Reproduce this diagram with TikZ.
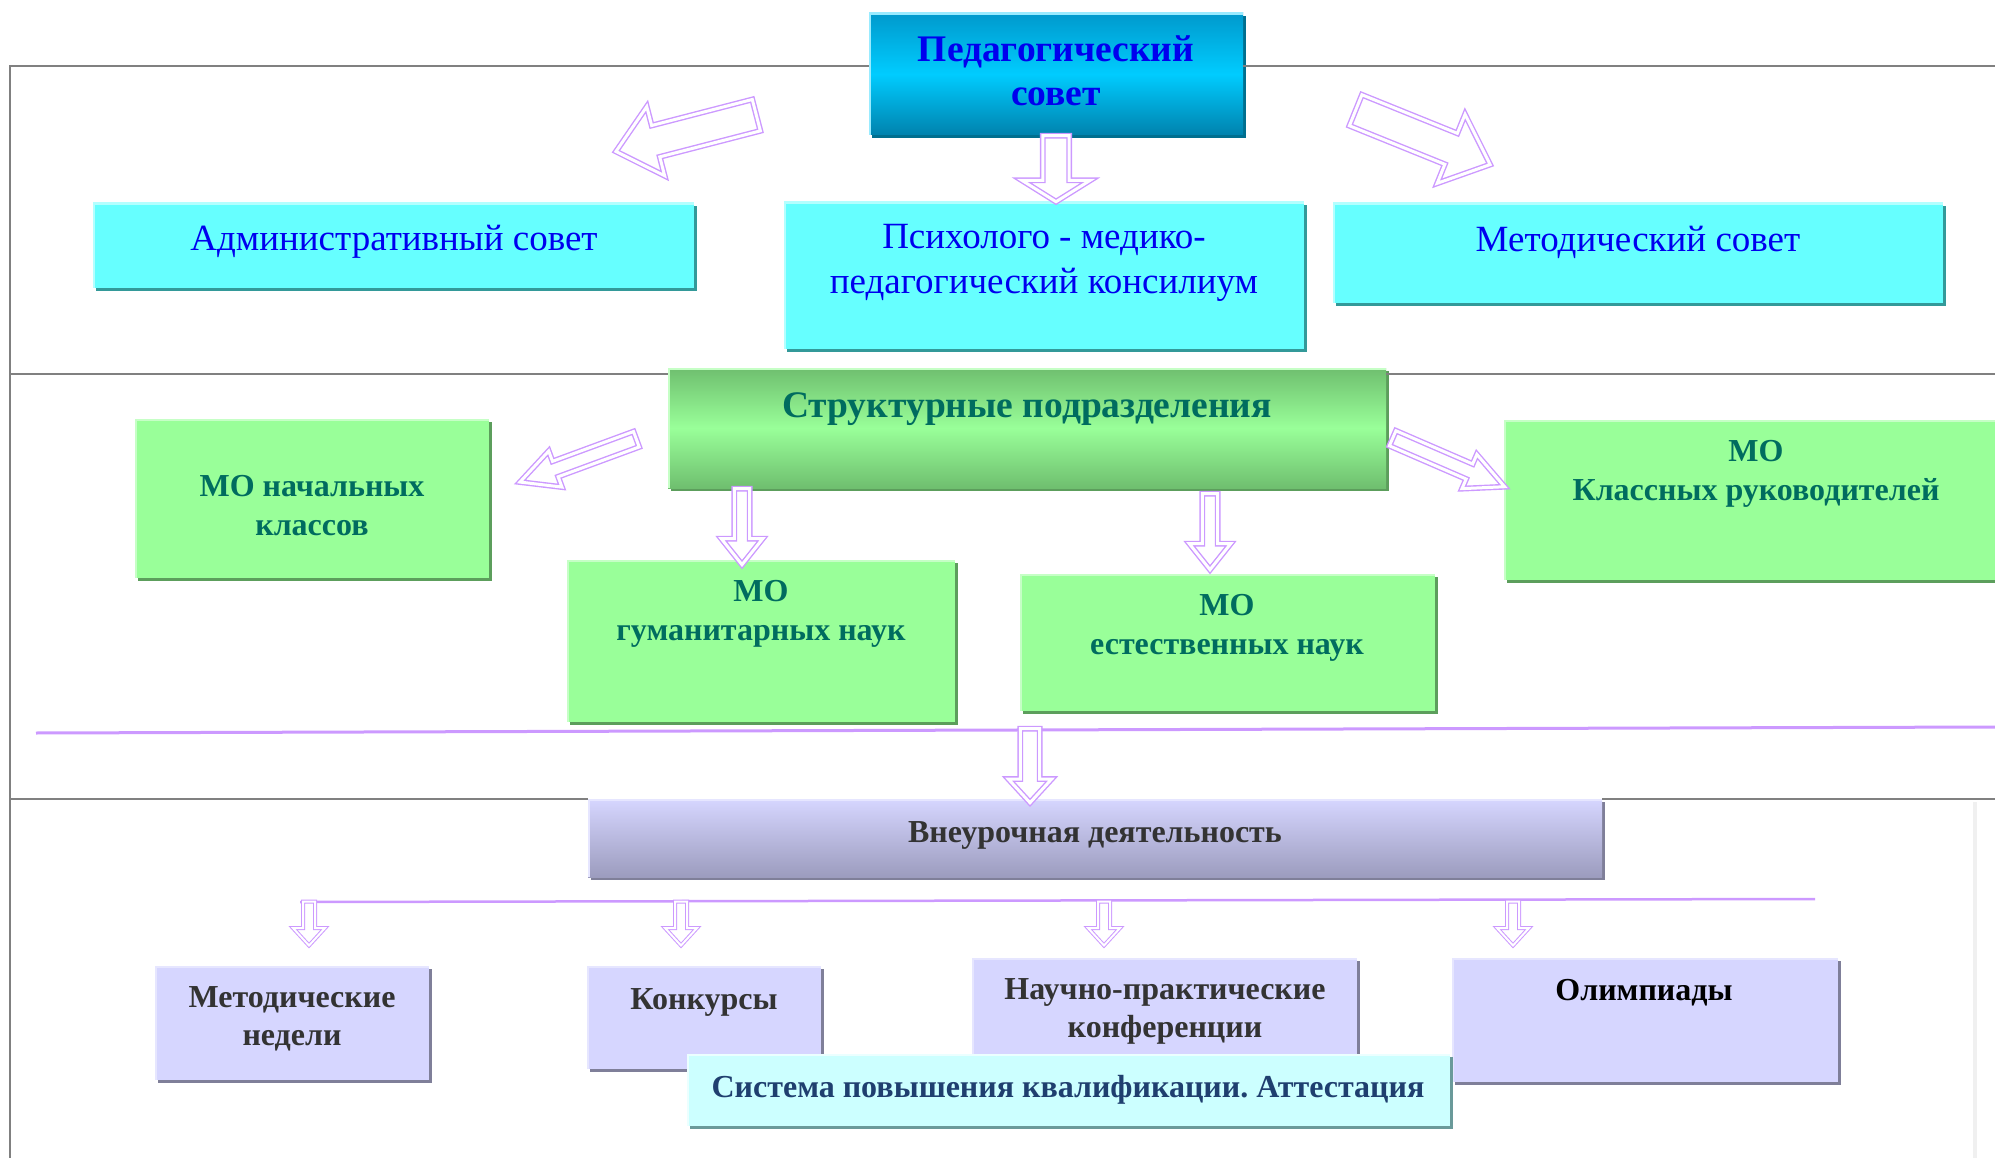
\documentclass[tikz,border=0pt]{standalone}
\usepackage{fontspec}
\setmainfont{Liberation Serif}
\frenchspacing
\usetikzlibrary{shadows,shapes.arrows}
\definecolor{arrowc}{RGB}{204,153,255}
\definecolor{sepgray}{HTML}{808080}
\definecolor{cyanfill}{HTML}{66FFFF}
\definecolor{cyanshade}{HTML}{339999}
\definecolor{cyanlight}{HTML}{B3FFFF}
\definecolor{pedtop}{HTML}{0099CC}
\definecolor{pedmid}{HTML}{00CCFF}
\definecolor{pedshade}{HTML}{006F8F}
\definecolor{bluetext}{HTML}{0000EE}
\definecolor{greenfill}{HTML}{99FF99}
\definecolor{greendark}{HTML}{6FBF6F}
\definecolor{greenshade}{HTML}{5C9E5C}
\definecolor{greenlight}{HTML}{C6FFC6}
\definecolor{tealtext}{HTML}{006C5F}
\definecolor{lavfill}{HTML}{D6D6FF}
\definecolor{lavdark}{HTML}{9C9CBE}
\definecolor{lavshade}{HTML}{7F7F99}
\definecolor{lavlight}{HTML}{E6E6FF}
\definecolor{graytext}{HTML}{333333}
\definecolor{sysfill}{HTML}{CCFFFF}
\definecolor{sysshade}{HTML}{6A9A9A}
\definecolor{systext}{HTML}{1F3F6F}

\begin{document}
\begin{tikzpicture}[x=1pt,y=-1pt,
    wh/.style 2 args={minimum width=#1, minimum height=#2, inner sep=0pt, outer sep=0pt},
    edge hl/.style={path picture={\draw[#1,line width=4pt] (path picture bounding box.south west) |- (path picture bounding box.north east);}},
    shade box/.style={drop shadow={shadow xshift=3pt,shadow yshift=-3pt,fill=#1,opacity=1}},
    cbox/.style={fill=cyanfill, shade box=cyanshade, edge hl=cyanlight},
    gbox/.style={fill=greenfill, shade box=greenshade, edge hl=greenlight},
    lbox/.style={fill=lavfill, shade box=lavshade, edge hl=lavlight},
    txt/.style={inner sep=0pt, align=center},
    bluet/.style={txt, text=bluetext, font=\fontsize{37}{44.5}\selectfont},
    mot/.style={txt, text=tealtext, font=\bfseries\fontsize{32}{39}\selectfont},
    lowt/.style={txt, text=graytext, font=\bfseries\fontsize{32}{38}\selectfont},
    hollow/.style={single arrow, draw=arrowc, double=white, double distance=3pt, line width=1.4pt,
      fill=white, inner xsep=0pt, minimum width=0pt, anchor=tail},
    hollow small/.style={hollow, line width=1pt, double distance=2pt, rotate=-90,
      minimum height=44pt, inner ysep=5.5pt, single arrow head extend=10pt, single arrow tip angle=85}]
  \useasboundingbox (0,0) rectangle (1995,1158);
  \coordinate (f1) at (10,66);
  \coordinate (f2) at (10,374);
  \coordinate (f3) at (10,799);
  \coordinate (f4) at (10,1158);

  \draw[arrowc, line width=3pt] (36,733) -- (1995,727);
  \draw[arrowc, line width=2.5pt] (300,902) -- (1815,899);
  \draw[gray!12, line width=4pt] (1975,802) -- (1975,1158);

  \node[wh={374pt}{122pt}, top color=pedtop, bottom color=pedtop!85!black, middle color=pedmid,
    shade box=pedshade, edge hl=pedmid!40] (ped) at (1056,74) {};
  \node[txt, text=bluetext, font=\bfseries\fontsize{37.5}{44.5}\selectfont] (ped-t) at (1056,71) {Педагогический\\совет};

  \draw[sepgray, line width=2pt] (f1 -| ped.east) -- (1995,66);
  \draw[sepgray, line width=2pt] (f4) -- (f1) -- (f1 -| ped.west);

  \node[cbox, wh={601pt}{85pt}] (adm) at (393.5,245.5) {};
  \node[bluet] (adm-t) at (394,242) {Административный совет};
  \node[cbox, wh={520pt}{147pt}] (psy) at (1044,275.5) {};
  \node[bluet] (psy-t) at (1044,263) {Психолого - медико-\\педагогический консилиум};
  \node[cbox, wh={610pt}{100pt}] (met) at (1638,253) {};
  \node[bluet] (met-t) at (1638,242) {Методический совет};

  \node[wh={718pt}{120pt}, top color=greendark, bottom color=greendark, middle color=greenfill,
    shade box=greenshade, edge hl=greenlight] (str) at (1027,428) {};
  \node[txt, text=tealtext, font=\bfseries\fontsize{37.5}{44}\selectfont] (str-t) at (1027,409) {Структурные подразделения};
  \draw[sepgray, line width=2pt] (f2) -- (f2 -| str.west);
  \draw[sepgray, line width=2pt] (f2 -| str.east) -- (1995,374);

  \node[gbox, wh={354pt}{159pt}] (mon) at (312,498.5) {};
  \node[mot] (mon-t) at (312,506) {МО начальных\\классов};
  \node[gbox, wh={388pt}{162pt}] (mog) at (761,641) {};
  \node[mot] (mog-t) at (761,614) {МО\\гуманитарных наук};
  \node[gbox, wh={415pt}{137pt}] (moe) at (1227.5,642.5) {};
  \node[mot] (moe-t) at (1227,628) {МО\\естественных наук};
  \node[gbox, wh={504pt}{160pt}] (mok) at (1756,500) {};
  \node[mot] (mok-t) at (1756,474) {МО\\Классных руководителей};

  \node[wh={1014pt}{78pt}, top color=lavfill, bottom color=lavdark, shade box=lavshade, edge hl=lavlight] (vne) at (1095,838) {};
  \node[lowt] (vne-t) at (1095,835) {Внеурочная деятельность};
  \draw[sepgray, line width=2pt] (f3) -- (vne.north west);
  \draw[sepgray, line width=2pt] (vne.north east) -- (1995,799);

  \node[lbox, wh={274pt}{114pt}] (mned) at (292,1023) {};
  \node[lowt] (mned-t) at (292,1019) {Методические\\недели};
  \node[lbox, wh={234pt}{103pt}] (kon) at (704,1017.5) {};
  \node[lowt] (kon-t) at (704,1002) {Конкурсы};
  \node[lbox, wh={385pt}{104pt}] (nau) at (1164.5,1010) {};
  \node[lowt] (nau-t) at (1165,1011) {Научно-практические\\конференции};
  \node[lbox, wh={386pt}{124pt}] (oli) at (1645,1020) {};
  \node[lowt, text=black] (oli-t) at (1644,993) {Олимпиады};

  \node[wh={763pt}{72pt}, fill=sysfill, shade box=sysshade, edge hl=white!60!sysfill] (sys) at (1068.5,1090) {};
  \node[txt, text=systext, font=\bfseries\fontsize{32}{38}\selectfont] (sys-t) at (1068,1090) {Система повышения квалификации. Аттестация};

  \node[hollow, rotate=194.5, minimum height=145pt, inner ysep=15.5pt, single arrow head extend=19.5pt, single arrow tip angle=82] (to-adm) at (757,115) {};
  \node[hollow, rotate=-90, minimum height=66pt, inner ysep=12.5pt, single arrow head extend=21pt, single arrow tip angle=116] (to-psy) at (ped.south) {};
  \node[hollow, rotate=-22, minimum height=145pt, inner ysep=16pt, single arrow head extend=20.5pt, single arrow tip angle=83] (to-met) at (1355,110) {};
  \node[hollow, rotate=200.2, minimum height=124pt, inner ysep=7.5pt, single arrow head extend=11pt, single arrow tip angle=54] (to-mon) at (637,439) {};
  \node[hollow, rotate=-90, minimum height=76pt, inner ysep=7pt, single arrow head extend=13pt, single arrow tip angle=77] (to-mog) at (742,488) {};
  \node[hollow, rotate=-90, minimum height=76pt, inner ysep=7pt, single arrow head extend=13pt, single arrow tip angle=77] (to-moe) at (1210,493) {};
  \node[hollow, rotate=-23.4, minimum height=122pt, inner ysep=7.5pt, single arrow head extend=10.5pt, single arrow tip angle=52] (to-mok) at (1392,438) {};
  \node[hollow, rotate=-90, minimum height=74pt, inner ysep=9pt, single arrow head extend=12pt, single arrow tip angle=85] (to-vne) at (1030,728) {};
  \foreach \x/\n in {309/mned,681/kon,1104/nau,1513/oli}
    \node[hollow small] (to-\n) at (\x,901) {};
\end{tikzpicture}
\end{document}
